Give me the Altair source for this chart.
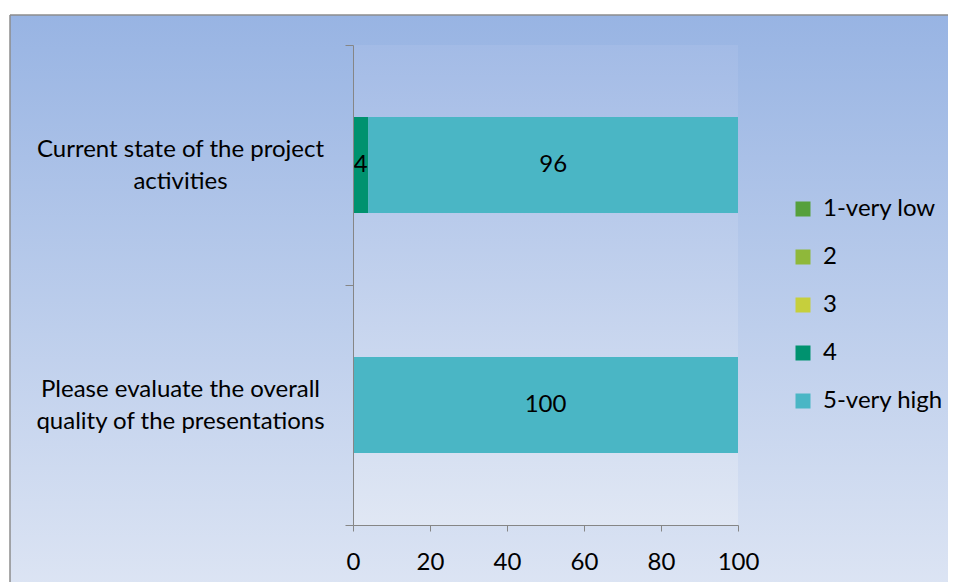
import altair as alt
import pandas as pd

questions = ["Current state of the project|activities",
             "Please evaluate the overall|quality of the presentations"]
ratings = ["1-very low", "2", "3", "4", "5-very high"]
colors = ["#56a03c", "#8fb83a", "#c6cf3c", "#00926f", "#4ab6c5"]

q_col = [questions[0], questions[0], questions[1]]
r_col = ["4", "5-very high", "5-very high"]
v_col = [4, 96, 100]
r_order = [ratings.index(r) for r in r_col]

df = pd.DataFrame({"question": q_col, "rating": r_col, "value": v_col, "ord": r_order})
one = pd.DataFrame({"a": [0]})

FONT = "Lato"
FS = 24
W, H = 385, 480

outer_bg = alt.Chart(one).mark_rect(
    color=alt.LinearGradient(gradient="linear", x1=0, x2=0, y1=0, y2=1,
                             stops=[alt.GradientStop(color="#98b4e3", offset=0),
                                    alt.GradientStop(color="#e3e9f5", offset=1)])
).encode(x=alt.value(-343), x2=alt.value(700), y=alt.value(-30), y2=alt.value(600))

border_top = alt.Chart(one).mark_rule(color="#8c8c8c", strokeWidth=1.5).encode(
    x=alt.value(-343), x2=alt.value(700), y=alt.value(-30))
border_left = alt.Chart(one).mark_rule(color="#8c8c8c", strokeWidth=1.5).encode(
    x=alt.value(-343), y=alt.value(-30), y2=alt.value(600))

inner_bg = alt.Chart(one).mark_rect(
    color=alt.LinearGradient(gradient="linear", x1=0, x2=0, y1=0, y2=1,
                             stops=[alt.GradientStop(color="#a3bbe6", offset=0),
                                    alt.GradientStop(color="#e0e7f4", offset=1)])
).encode(x=alt.value(0), x2=alt.value(W), y=alt.value(0), y2=alt.value(H))

y_enc = alt.Y("question:N", sort=questions, title=None,
              scale=alt.Scale(paddingInner=0, paddingOuter=0),
              axis=alt.Axis(labelExpr="split(datum.label, '|')", labelAlign="center",
                            labelBaseline="middle", labelPadding=165, labelLineHeight=32,
                            labelOffset=-16,
                            labelFont=FONT, labelFontSize=FS, labelColor="#000000",
                            tickBand="extent", tickSize=8, tickColor="#868686",
                            domainColor="#868686", labelLimit=400, zindex=1))

bars = alt.Chart(df).mark_bar(height={"band": 0.4}).encode(
    y=y_enc,
    x=alt.X("value:Q", stack="zero", title=None,
            scale=alt.Scale(domain=[0, 100], nice=False),
            axis=alt.Axis(values=[0, 20, 40, 60, 80, 100], grid=False, tickSize=6,
                          tickColor="#868686", domainColor="#868686", labelPadding=19,
                          labelFlush=False,
                          labelFont=FONT, labelFontSize=FS, labelColor="#000000",
                          zindex=1)),
    color=alt.Color("rating:N", scale=alt.Scale(domain=ratings, range=colors),
                    legend=alt.Legend(title=None, orient="none", legendX=438, legendY=152,
                                      symbolType="square", symbolSize=225,
                                      symbolStrokeWidth=0, labelFont=FONT,
                                      labelFontSize=FS, labelColor="#000000",
                                      labelOffset=8, rowPadding=24)),
    order=alt.Order("ord:Q")
)

texts = alt.Chart(df).transform_stack(
    stack="value", groupby=["question"], as_=["v0", "v1"],
    sort=[alt.SortField("ord", order="ascending")]
).transform_calculate(mid="(datum.v0 + datum.v1) / 2").mark_text(
    font=FONT, fontSize=FS, color="#000000", baseline="middle"
).encode(y=alt.Y("question:N", sort=questions), x=alt.X("mid:Q"), text="value:Q")

chart = alt.layer(outer_bg, border_top, border_left, inner_bg, bars, texts).properties(
    width=W, height=H,
    padding={"left": 345, "top": 37, "right": 210, "bottom": 57},
    autosize=alt.AutoSizeParams(type="none"),
    background="white"
).configure_view(stroke=None)

chart.save("out.html", embed_options={"renderer": "svg", "actions": False})
